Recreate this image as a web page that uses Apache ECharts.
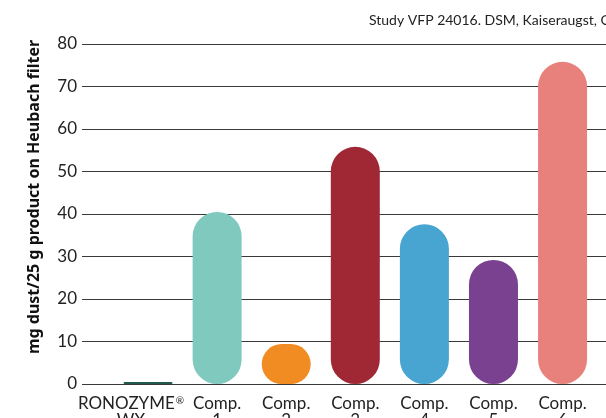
<!DOCTYPE html>
<html>
<head>
<meta charset="utf-8">
<script src="https://cdn.jsdelivr.net/npm/echarts@6/dist/echarts.min.js"></script>
<style>
  html, body { margin: 0; padding: 0; background: #fff; }
  #chart { width: 606px; height: 418px; }
</style>
</head>
<body>
<div id="chart"></div>
<script>
// Dust measured on the Heubach filter, per product
const categories = ['RONOZYME®\nWX', 'Comp.\n1', 'Comp.\n2', 'Comp.\n3', 'Comp.\n4', 'Comp.\n5', 'Comp.\n6'];
const dustValues = [0.5, 40.5, 9.4, 55.8, 37.6, 29.2, 75.8];
const barColors = ['#1e5b4d', '#7fc9bf', '#f08c22', '#a02834', '#48a4d0', '#7b4191', '#e8817b'];
const yTicks = { min: 0, max: 80, interval: 10 };
const yAxisTitle = 'mg dust/25 g product on Heubach filter';
const sourceNote = 'Study VFP 24016. DSM, Kaiseraugst, CH';

const font = 'Lato, "Noto Sans", sans-serif';
const chart = echarts.init(document.getElementById('chart'), null, { renderer: 'canvas' });

// Superscript the registered mark in category names
function formatCategory(name) {
  return name.split('\n').map(line => {
    const parts = line.split('®');
    return parts.map(p => p ? '{t|' + p + '}' : '').join('{sup|®}');
  }).join('\n');
}

chart.setOption({
  animation: false,
  backgroundColor: '#ffffff',
  graphic: [
    {
      type: 'text',
      x: 369,
      y: 13,
      silent: true,
      style: {
        text: sourceNote,
        font: '14px Lato, "Noto Sans", sans-serif',
        fill: '#222'
      }
    }
  ],
  grid: [
    // value scale with gridlines spanning the full width
    { left: 82, right: -10, top: 44, bottom: 34, containLabel: false, outerBoundsMode: 'none' },
    // product bars
    { left: 113.5, width: 483.6, top: 44, bottom: 34, containLabel: false, outerBoundsMode: 'none' }
  ],
  xAxis: [
    { gridIndex: 0, type: 'value', min: 0, max: 1, show: false },
    {
      gridIndex: 1,
      type: 'category',
      data: categories.map((c, i) => i === 0
        ? { value: c, textStyle: { padding: [0, 34, 0, 0] } }
        : c),
      axisLine: { show: false },
      axisTick: { show: false },
      axisLabel: {
        interval: 0,
        margin: 11.5,
        formatter: formatCategory,
        rich: {
          t: { fontFamily: font, fontSize: 17, lineHeight: 17, color: '#222' },
          sup: { fontFamily: font, fontSize: 10, lineHeight: 17, verticalAlign: 'top', padding: [0, 0, 6, 1], color: '#222' }
        }
      }
    }
  ],
  yAxis: [
    {
      gridIndex: 0,
      type: 'value',
      min: yTicks.min,
      max: yTicks.max,
      interval: yTicks.interval,
      name: yAxisTitle,
      nameLocation: 'middle',
      nameGap: 40,
      nameTextStyle: {
        fontFamily: '"Noto Sans", sans-serif',
        fontSize: 16,
        fontWeight: 'bold',
        color: '#111',
        padding: [0, 0, 0, 34]
      },
      axisLine: { show: false },
      axisTick: { show: false },
      axisLabel: { margin: 5, fontFamily: font, fontSize: 17, color: '#222' },
      splitLine: { show: true, lineStyle: { color: '#3a3a3a', width: 1.2 } }
    },
    {
      gridIndex: 1,
      type: 'value',
      min: yTicks.min,
      max: yTicks.max,
      interval: yTicks.interval,
      show: false,
      splitLine: { show: false }
    }
  ],
  series: [
    {
      type: 'bar',
      xAxisIndex: 1,
      yAxisIndex: 1,
      barWidth: 49,
      data: dustValues.map((v, i) => ({
        value: v,
        itemStyle: { color: barColors[i], borderRadius: 25 }
      }))
    }
  ]
});
</script>
</body>
</html>
